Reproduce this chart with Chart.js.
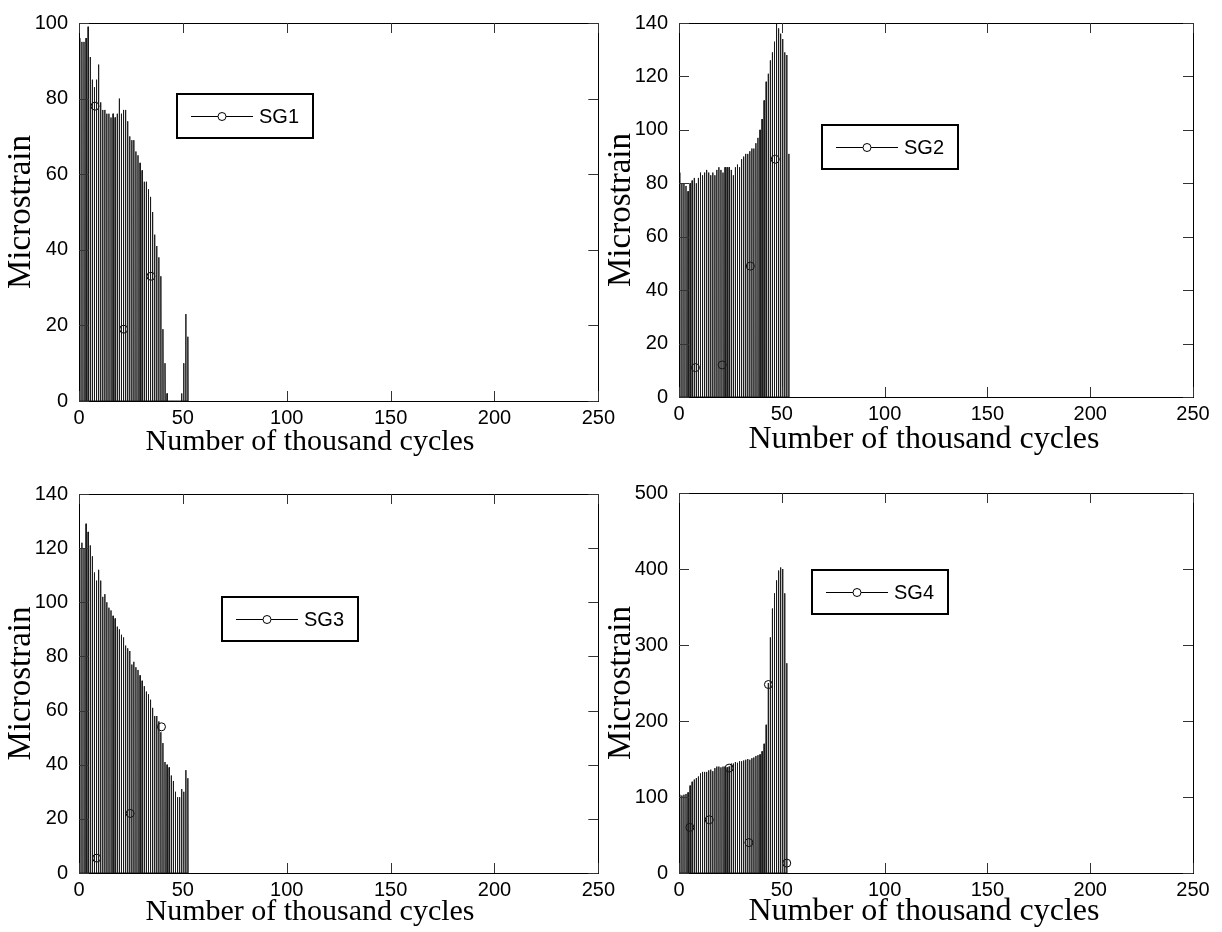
<!DOCTYPE html>
<html>
<head>
<meta charset="utf-8">
<script src="https://cdn.jsdelivr.net/npm/chart.js@4.4.0/dist/chart.umd.min.js"></script>
<style>
body{margin:0;background:#fff;width:1222px;height:932px;position:relative;overflow:hidden}
canvas{position:absolute}
</style>
</head>
<body>
<canvas id="c1" width="620" height="466" style="left:0;top:0"></canvas>
<canvas id="c2" width="622" height="466" style="left:600px;top:0"></canvas>
<canvas id="c3" width="620" height="466" style="left:0;top:466px"></canvas>
<canvas id="c4" width="622" height="466" style="left:600px;top:466px"></canvas>
<script>
// peak microstrain in each block of one thousand cycles
var sg1Peaks = [96, 95, 95, 96, 99, 91, 85, 83, 85, 89, 79, 77, 77, 76, 76, 75, 76, 75, 76, 80,
                76, 77, 77, 74, 70, 69, 69, 66, 65, 63, 61, 58, 58, 56, 54, 50, 44, 41, 38, 33,
                19, 10, 2, 0, 0, 0, 0, 0, 0, 2, 10, 23, 17];
var sg2Peaks = [84, 80, 80, 79, 77, 80, 81, 82, 80, 82, 84, 83, 84, 85, 84, 83, 84, 83, 85, 86,
                85, 84, 86, 86, 86, 85, 83, 86, 87, 86, 89, 90, 91, 91, 92, 93, 93, 95, 97, 100,
                104, 111, 118, 121, 126, 129, 133, 140, 138, 136, 134, 129, 128, 91];
var sg3Peaks = [120, 122, 120, 129, 126, 121, 117, 111, 108, 112, 108, 102, 103, 100, 98, 97, 95, 94, 91, 90,
                88, 87, 84, 83, 82, 77, 78, 76, 75, 73, 71, 69, 67, 66, 64, 61, 58, 58, 56, 52,
                48, 41, 40, 39, 36, 34, 30, 28, 28, 31, 30, 38, 35];
var sg4Peaks = [103, 102, 103, 104, 106, 115, 120, 123, 125, 127, 131, 133, 133, 133, 135, 136, 134, 138, 140, 140,
                139, 140, 140, 139, 140, 144, 144, 146, 145, 147, 147, 148, 149, 150, 149, 151, 152, 154, 155, 156,
                160, 170, 195, 250, 310, 348, 368, 385, 398, 402, 400, 368, 276];

// circle markers on the curves
var sg1MarkX = [7.7, 21.5, 34.6];
var sg1MarkY = [78, 19, 33];
var sg2MarkX = [8, 21, 34.7, 46.8];
var sg2MarkY = [11, 12, 49, 89];
var sg3MarkX = [8.5, 24.6, 39.7];
var sg3MarkY = [5.5, 22, 54];
var sg4MarkX = [5.3, 14.7, 24.4, 34, 43.5, 52.4];
var sg4MarkY = [60, 70, 138, 40, 248, 13];

var xTickValues = [0, 50, 100, 150, 200, 250];
var yTicks100 = [0, 20, 40, 60, 80, 100];
var yTicks140 = [0, 20, 40, 60, 80, 100, 120, 140];
var yTicks500 = [0, 100, 200, 300, 400, 500];

var labels = ['SG1', 'SG2', 'SG3', 'SG4'];
var xTitle = 'Number of thousand cycles';
var yTitle = 'Microstrain';

// each block: a sharp spike up to the block's peak and straight back to zero
function spikes(peaks) {
    var pts = [];
    for (var i = 0; i < peaks.length; i++) {
        pts.push({x: i + 0.3, y: 0});
        pts.push({x: i + 0.4, y: peaks[i]});
        pts.push({x: i + 0.5, y: 0});
    }
    return pts;
}

function markers(xs, ys) {
    return xs.map(function (v, i) { return {x: v, y: ys[i]}; });
}

// matlab style frame, inward ticks, boxed legend and x title
var matlabBox = {
    id: 'matlabBox',
    afterDraw: function (chart, args, opts) {
        var ctx = chart.ctx, a = chart.chartArea;
        var xs = chart.scales.x, ys = chart.scales.y;
        ctx.save();
        ctx.strokeStyle = '#000';
        ctx.lineWidth = 1;
        ctx.strokeRect(Math.round(a.left) + 0.5, Math.round(a.top) + 0.5,
            Math.round(a.right - a.left), Math.round(a.bottom - a.top));
        ctx.strokeStyle = '#333';
        ctx.beginPath();
        xs.ticks.forEach(function (t) {
            var px = Math.round(xs.getPixelForValue(t.value)) + 0.5;
            ctx.moveTo(px, a.bottom); ctx.lineTo(px, a.bottom - 10);
            ctx.moveTo(px, a.top); ctx.lineTo(px, a.top + 10);
        });
        ys.ticks.forEach(function (t) {
            var py = Math.round(ys.getPixelForValue(t.value)) + 0.5;
            ctx.moveTo(a.left, py); ctx.lineTo(a.left + 10, py);
            ctx.moveTo(a.right, py); ctx.lineTo(a.right - 10, py);
        });
        ctx.stroke();

        var bx = Math.round(a.left + opts.legendX), by = Math.round(a.top + opts.legendY);
        ctx.fillStyle = '#fff';
        ctx.fillRect(bx, by, 136, 44);
        ctx.strokeStyle = '#000';
        ctx.lineWidth = 2;
        ctx.strokeRect(bx, by, 136, 44);
        ctx.lineWidth = 1;
        ctx.beginPath();
        ctx.moveTo(bx + 14, by + 22.5); ctx.lineTo(bx + 76, by + 22.5);
        ctx.stroke();
        ctx.beginPath();
        ctx.arc(bx + 45, by + 22.5, 4, 0, Math.PI * 2);
        ctx.fillStyle = '#fff';
        ctx.fill();
        ctx.stroke();
        ctx.fillStyle = '#000';
        ctx.font = '20px Arial, "Liberation Sans"';
        ctx.textAlign = 'left';
        ctx.textBaseline = 'middle';
        ctx.fillText(opts.label, bx + 82, by + 23);

        ctx.font = opts.titleSize + 'px "Liberation Serif"';
        ctx.textAlign = 'center';
        ctx.fillText(xTitle, a.left + opts.titleX, opts.titleY);
        ctx.restore();
    }
};

function makeChart(id, peaks, mx, my, yTickValues, box) {
    var ctx = document.getElementById(id).getContext('2d');
    return new Chart(ctx, {
        type: 'line',
        data: {
            datasets: [{
                data: spikes(peaks),
                borderColor: '#1a1a1a',
                borderWidth: 1,
                pointRadius: 0,
                tension: 0
            }, {
                data: markers(mx, my),
                showLine: false,
                pointStyle: 'circle',
                pointRadius: 4,
                pointBorderWidth: 1,
                pointBorderColor: '#000',
                pointBackgroundColor: 'rgba(0,0,0,0)'
            }]
        },
        options: {
            responsive: false,
            animation: false,
            devicePixelRatio: 1,
            layout: {padding: {top: box.top, right: box.right, left: 0, bottom: 0}},
            plugins: {
                legend: {display: false},
                tooltip: {enabled: false},
                matlabBox: box
            },
            scales: {
                x: {
                    type: 'linear',
                    min: 0,
                    max: 250,
                    afterBuildTicks: function (s) { s.ticks = xTickValues.map(function (v) { return {value: v}; }); },
                    afterFit: function (s) { s.height = box.xHeight; },
                    grid: {display: false, drawTicks: false},
                    border: {display: false},
                    ticks: {color: '#000', padding: 5, maxRotation: 0, font: {family: 'Arial, "Liberation Sans"', size: 20}}
                },
                y: {
                    type: 'linear',
                    min: 0,
                    max: yTickValues[yTickValues.length - 1],
                    afterBuildTicks: function (s) { s.ticks = yTickValues.map(function (v) { return {value: v}; }); },
                    afterFit: function (s) { s.width = 79; },
                    grid: {display: false, drawTicks: false},
                    border: {display: false},
                    ticks: {color: '#000', padding: 11, font: {family: 'Arial, "Liberation Sans"', size: 20}},
                    title: {
                        display: true,
                        text: yTitle,
                        color: '#000',
                        padding: {top: 2, bottom: 0},
                        font: {family: '"Liberation Serif"', size: 33}
                    }
                }
            }
        },
        plugins: [matlabBox]
    });
}

makeChart('c1', sg1Peaks, sg1MarkX, sg1MarkY, yTicks100,
    {top: 22, right: 21, xHeight: 65, legendX: 98, legendY: 71, label: labels[0], titleX: 231, titleY: 442, titleSize: 30});
makeChart('c2', sg2Peaks, sg2MarkX, sg2MarkY, yTicks140,
    {top: 17, right: 29, xHeight: 69, legendX: 143, legendY: 102, label: labels[1], titleX: 245, titleY: 440, titleSize: 32});
makeChart('c3', sg3Peaks, sg3MarkX, sg3MarkY, yTicks140,
    {top: 28, right: 21, xHeight: 59, legendX: 143, legendY: 103, label: labels[2], titleX: 231, titleY: 446, titleSize: 30});
makeChart('c4', sg4Peaks, sg4MarkX, sg4MarkY, yTicks500,
    {top: 27, right: 29, xHeight: 59, legendX: 133, legendY: 77, label: labels[3], titleX: 245, titleY: 446, titleSize: 32});
</script>
</body>
</html>
